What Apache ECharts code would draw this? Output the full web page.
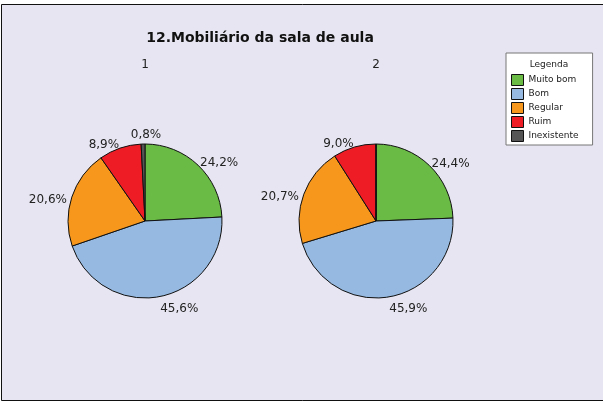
<!DOCTYPE html>
<html>
<head>
<meta charset="utf-8">
<script src="https://cdn.jsdelivr.net/npm/echarts@6/dist/echarts.min.js"></script>
<style>
 html, body { margin: 0; padding: 0; background: #fff; }
 #chart { width: 603px; height: 406px; }
</style>
</head>
<body>
<div id="chart"></div>
<script>
// categories and values
var categorias = ['Muito bom', 'Bom', 'Regular', 'Ruim', 'Inexistente'];
var cores = ['#6abb45', '#95b9e0', '#f7981d', '#ee1d25', '#555555'];
var valores1 = [24.2, 45.6, 20.6, 8.9, 0.8];
var valores2 = [24.4, 45.9, 20.7, 9.0, 0];
var titulo = '12.Mobiliário da sala de aula';
var subtitulos = ['1', '2'];

var fonte = 'DejaVu Sans';

function pieSerie(nome, valores, centro) {
  return {
    type: 'pie',
    name: nome,
    center: centro,
    radius: 77,
    startAngle: 90,
    clockwise: true,
    animation: false,
    minShowLabelAngle: 1,
    avoidLabelOverlap: false,
    itemStyle: { borderColor: '#111', borderWidth: 1 },
    label: {
      show: true,
      position: 'outside',
      color: '#222',
      fontFamily: fonte,
      fontSize: 12,
      distanceToLabelLine: 0,
      formatter: function (p) {
        return p.value.toFixed(1).replace('.', ',') + '%';
      }
    },
    labelLine: { show: false, length: 3, length2: 0 },
    // bottom label hangs below the rim, the tiny slice gets a centred label on top
    labelLayout: function (p) {
      if (p.dataIndex === 1) return { verticalAlign: 'top', dy: 3, hideOverlap: false };
      if (p.dataIndex === 2) return { dx: -2, dy: 4, hideOverlap: false };
      if (p.dataIndex === 4) return { align: 'center', verticalAlign: 'bottom', dx: 3, hideOverlap: false };
      return { hideOverlap: false };
    },
    emphasis: { disabled: true },
    data: valores.map(function (v, i) {
      return { name: categorias[i], value: v, itemStyle: { color: cores[i] } };
    })
  };
}

var myChart = echarts.init(document.getElementById('chart'));

var option = {
  backgroundColor: '#ffffff',
  textStyle: { fontFamily: fonte },
  graphic: [{
    type: 'rect',
    z: -10,
    shape: { x: 1.5, y: 4.5, width: 610, height: 396 },
    style: { fill: '#e7e5f1', stroke: '#111', lineWidth: 1 }
  }],
  title: [
    { text: titulo, left: 260, top: 31, textAlign: 'center', padding: 0,
      textStyle: { fontFamily: fonte, fontSize: 14, fontWeight: 'bold', color: '#111' } },
    { text: subtitulos[0], left: 145, top: 59, textAlign: 'center', padding: 0,
      textStyle: { fontFamily: fonte, fontSize: 12, fontWeight: 'normal', color: '#222' } },
    { text: subtitulos[1], left: 376, top: 59, textAlign: 'center', padding: 0,
      textStyle: { fontFamily: fonte, fontSize: 12, fontWeight: 'normal', color: '#222' } },
    { text: 'Legenda', left: 549, top: 60, textAlign: 'center', padding: 0, z: 10,
      textStyle: { fontFamily: fonte, fontSize: 9, fontWeight: 'normal', color: '#222' } }
  ],
  legend: {
    orient: 'vertical',
    left: 506,
    top: 53,
    padding: [21, 14, 3, 5],
    itemWidth: 12,
    itemHeight: 11,
    itemGap: 2,
    icon: 'rect',
    selectedMode: false,
    backgroundColor: '#ffffff',
    borderColor: '#777',
    borderWidth: 1,
    itemStyle: { borderColor: '#111', borderWidth: 1 },
    textStyle: { fontFamily: fonte, fontSize: 9, lineHeight: 11, color: '#222' },
    data: categorias
  },
  series: [
    pieSerie('1', valores1, [145, 221]),
    pieSerie('2', valores2, [376, 221])
  ]
};

myChart.setOption(option);
</script>
</body>
</html>
